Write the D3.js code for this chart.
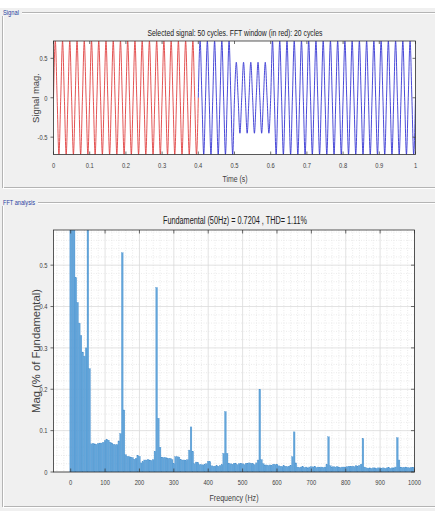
<!DOCTYPE html>
<html><head><meta charset="utf-8">
<script src="https://cdn.jsdelivr.net/npm/d3@7"></script>
<style>body{margin:0;background:#f0f0f0;} svg{display:block}</style>
</head><body><svg id="c" width="435" height="511"></svg>
<script>
// ---------- DATA ----------
const timeTicks = [0,0.1,0.2,0.3,0.4,0.5,0.6,0.7,0.8,0.9,1];
const timeTickLabels = ["0","0.1","0.2","0.3","0.4","0.5","0.6","0.7","0.8","0.9","1"];
const signalTicks = [-0.5,0,0.5];
const signalTickLabels = ["-0.5","0","0.5"];
// peak amplitude of each of the 50 cycles (sag between 0.5 s and 0.6 s)
const cycleAmplitude = [
  0.72,0.72,0.72,0.72,0.72,0.72,0.72,0.72,0.72,0.72,
  0.72,0.72,0.72,0.72,0.72,0.72,0.72,0.72,0.72,0.72,
  0.72,0.72,0.72,0.72,0.72,0.45,0.45,0.45,0.45,0.45,
  0.72,0.72,0.72,0.72,0.72,0.72,0.72,0.72,0.72,0.72,
  0.72,0.72,0.72,0.72,0.72,0.72,0.72,0.72,0.72,0.72];
const fftWindowCycles = 20;

const freqTicks = [0,100,200,300,400,500,600,700,800,900,1000];
const freqTickLabels = ["0","100","200","300","400","500","600","700","800","900","1000"];
const magTicks = [0,0.1,0.2,0.3,0.4,0.5];
const magTickLabels = ["0","0.1","0.2","0.3","0.4","0.5"];
// spectrum magnitude, one value every 5 Hz
const mag000 = [0.80,0.90,0.75,0.47,0.41,0.36,0.33,0.29,0.28,0.30,1.00,0.25,0.068,0.069,0.068,0.067,0.069,0.070,0.070,0.072];
const mag100 = [0.076,0.079,0.077,0.072,0.070,0.067,0.066,0.066,0.075,0.093,0.53,0.15,0.042,0.038,0.037,0.036,0.035,0.031,0.033,0.040];
const mag200 = [0.038,0.022,0.025,0.029,0.029,0.030,0.029,0.028,0.030,0.050,0.446,0.13,0.060,0.036,0.035,0.035,0.034,0.033,0.033,0.030];
const mag300 = [0.020,0.037,0.037,0.036,0.030,0.029,0.029,0.028,0.030,0.053,0.109,0.050,0.020,0.024,0.023,0.018,0.018,0.017,0.018,0.020];
const mag400 = [0.026,0.025,0.015,0.014,0.014,0.015,0.014,0.016,0.018,0.045,0.146,0.045,0.020,0.020,0.019,0.021,0.020,0.018,0.020,0.020];
const mag500 = [0.020,0.018,0.021,0.021,0.022,0.021,0.020,0.018,0.022,0.029,0.200,0.030,0.020,0.017,0.017,0.016,0.017,0.016,0.019,0.018];
const mag600 = [0.019,0.015,0.014,0.013,0.015,0.014,0.013,0.014,0.016,0.037,0.097,0.022,0.012,0.011,0.012,0.013,0.011,0.012,0.010,0.012];
const mag700 = [0.013,0.012,0.014,0.011,0.012,0.011,0.012,0.011,0.012,0.018,0.085,0.015,0.012,0.013,0.012,0.013,0.012,0.011,0.012,0.012];
const mag800 = [0.012,0.013,0.014,0.013,0.014,0.013,0.015,0.014,0.016,0.019,0.081,0.012,0.010,0.009,0.010,0.009,0.010,0.010,0.009,0.010];
const mag900 = [0.010,0.009,0.010,0.009,0.010,0.011,0.009,0.010,0.010,0.012,0.083,0.029,0.012,0.011,0.011,0.012,0.011,0.010,0.011,0.011,0.011];
const freqStep = 5;

// ---------- DRAW ----------
const svg = d3.select("#c");
const FONT = "Arial, 'Liberation Sans', sans-serif";
svg.append("rect").attr("x",0).attr("y",0).attr("width",435).attr("height",8).attr("fill","#ffffff");

function panel(y0, y1, label, labelW){
  const g = svg.append("g");
  g.append("rect").attr("x",2.5).attr("y",y0+0.5).attr("width",440).attr("height",y1-y0)
    .attr("fill","none").attr("stroke","#b4b4b4").attr("stroke-width",1);
  g.append("rect").attr("x",3.5).attr("y",y0+1.5).attr("width",440).attr("height",y1-y0)
    .attr("fill","none").attr("stroke","#ffffff").attr("stroke-width",1);
  g.append("rect").attr("x",2).attr("y",y0-4).attr("width",labelW).attr("height",8).attr("fill","#f0f0f0");
  g.append("text").attr("x",3).attr("y",y0+2.5).text(label)
    .attr("font-family",FONT).attr("font-size",6.5).attr("fill","#2a3fa0")
    .attr("textLength",labelW-4).attr("lengthAdjust","spacingAndGlyphs");
}
panel(12,187,"Signal",20);
panel(202,506,"FFT analysis",36);

function squeeze(sel, k){
  sel.each(function(){ const w=this.getComputedTextLength(); d3.select(this).attr("textLength",w*k).attr("lengthAdjust","spacingAndGlyphs"); });
}

// ===== Top: signal =====
const T = {l:53.5, r:415.5, t:41, b:154.5};
const xs = d3.scaleLinear().domain([0,1]).range([T.l,T.r]);
const ys = d3.scaleLinear().domain([-0.72,0.72]).range([T.b,T.t]);
svg.append("rect").attr("x",T.l).attr("y",T.t).attr("width",T.r-T.l).attr("height",T.b-T.t).attr("fill","#fff");
svg.append("clipPath").attr("id","clipT").append("rect").attr("x",T.l).attr("y",T.t).attr("width",T.r-T.l).attr("height",T.b-T.t);

function cyclePoints(k0,k1){
  const pts=[];
  for(let k=k0;k<k1;k++){
    const t0=k*0.02, A=cycleAmplitude[k];
    pts.push([t0,0],[t0+0.005,A],[t0+0.01,0],[t0+0.015,-A]);
  }
  pts.push([k1*0.02,0]);
  return pts;
}
const line = d3.line().x(d=>xs(d[0])).y(d=>ys(d[1])).curve(d3.curveMonotoneX);
const gSig = svg.append("g").attr("clip-path","url(#clipT)");
gSig.append("path").attr("d",line(cyclePoints(fftWindowCycles,cycleAmplitude.length)))
  .attr("fill","none").attr("stroke","#3636d2").attr("stroke-width",0.9);
gSig.append("path").attr("d",line(cyclePoints(0,fftWindowCycles)))
  .attr("fill","none").attr("stroke","#e04040").attr("stroke-width",0.9);

// axes of top
const axC="#303030";
const gTA = svg.append("g");
gTA.append("rect").attr("x",T.l).attr("y",T.t).attr("width",T.r-T.l).attr("height",T.b-T.t).attr("fill","none").attr("stroke",axC).attr("stroke-width",0.8);
timeTicks.forEach((v,i)=>{
  const x=xs(v);
  gTA.append("line").attr("x1",x).attr("x2",x).attr("y1",T.b).attr("y2",T.b-3).attr("stroke",axC).attr("stroke-width",0.7);
  gTA.append("line").attr("x1",x).attr("x2",x).attr("y1",T.t).attr("y2",T.t+3).attr("stroke",axC).attr("stroke-width",0.7);
  gTA.append("text").attr("class","tk").attr("x",x).attr("y",T.b+13).attr("text-anchor","middle").text(timeTickLabels[i]);
});
signalTicks.forEach((v,i)=>{
  const y=ys(v);
  gTA.append("line").attr("x1",T.l-3).attr("x2",T.l).attr("y1",y).attr("y2",y).attr("stroke",axC).attr("stroke-width",0.7);
  gTA.append("line").attr("x1",T.r).attr("x2",T.r-3).attr("y1",y).attr("y2",y).attr("stroke",axC).attr("stroke-width",0.7);
  gTA.append("text").attr("class","tk").attr("x",T.l-6).attr("y",y+2.8).attr("text-anchor","end").text(signalTickLabels[i]);
});
svg.append("text").attr("x",235).attr("y",36).attr("text-anchor","middle").text("Selected signal: 50 cycles. FFT window (in red): 20 cycles")
  .attr("font-family",FONT).attr("font-size",9).attr("fill","#202020").attr("textLength",175).attr("lengthAdjust","spacingAndGlyphs");
svg.append("text").attr("x",235).attr("y",182).attr("text-anchor","middle").text("Time (s)")
  .attr("font-family",FONT).attr("font-size",8.5).attr("fill","#404040").attr("textLength",25).attr("lengthAdjust","spacingAndGlyphs");
svg.append("text").attr("transform","translate(39,98) rotate(-90)").attr("text-anchor","middle").text("Signal mag.")
  .attr("font-family",FONT).attr("font-size",9.5).attr("fill","#404040").attr("textLength",50).attr("lengthAdjust","spacingAndGlyphs");

// ===== Bottom: spectrum =====
const B = {l:53.5, r:414.5, t:230, b:472};
const xf = d3.scaleLinear().domain([-50,1000]).range([B.l,B.r]);
const yf = d3.scaleLinear().domain([0,0.585]).range([B.b,B.t]);
svg.append("rect").attr("x",B.l).attr("y",B.t).attr("width",B.r-B.l).attr("height",B.b-B.t).attr("fill","#fff");
svg.append("clipPath").attr("id","clipB").append("rect").attr("x",B.l).attr("y",B.t).attr("width",B.r-B.l).attr("height",B.b-B.t);

const gGrid = svg.append("g");
d3.range(-40,1000,20).forEach(f=>{ if(f%100!==0) gGrid.append("line").attr("x1",xf(f)).attr("x2",xf(f)).attr("y1",B.t).attr("y2",B.b).attr("stroke","#e2e2e2").attr("stroke-width",0.7).attr("stroke-dasharray","1,1.5"); });
d3.range(0.02,0.585,0.02).forEach(v=>{ if(Math.abs(v*10-Math.round(v*10))>1e-6) gGrid.append("line").attr("x1",B.l).attr("x2",B.r).attr("y1",yf(v)).attr("y2",yf(v)).attr("stroke","#e2e2e2").attr("stroke-width",0.7).attr("stroke-dasharray","1,1.5"); });
freqTicks.forEach(f=>gGrid.append("line").attr("x1",xf(f)).attr("x2",xf(f)).attr("y1",B.t).attr("y2",B.b).attr("stroke","#dadada").attr("stroke-width",0.8));
magTicks.forEach(v=>gGrid.append("line").attr("x1",B.l).attr("x2",B.r).attr("y1",yf(v)).attr("y2",yf(v)).attr("stroke","#dadada").attr("stroke-width",0.8));

const spectrum = [].concat(mag000,mag100,mag200,mag300,mag400,mag500,mag600,mag700,mag800,mag900)
  .map((m,i)=>({f:i*freqStep, m}));
const bw = xf(freqStep)-xf(0);
svg.append("g").attr("clip-path","url(#clipB)").selectAll("rect").data(spectrum).join("rect")
  .attr("x",d=>xf(d.f)-bw/2).attr("width",bw).attr("y",d=>yf(d.m)).attr("height",d=>yf(0)-yf(d.m))
  .attr("fill","#62a5da").attr("stroke","#4a90cc").attr("stroke-width",0.3);

const gBA = svg.append("g");
gBA.append("rect").attr("x",B.l).attr("y",B.t).attr("width",B.r-B.l).attr("height",B.b-B.t).attr("fill","none").attr("stroke",axC).attr("stroke-width",0.8);
freqTicks.forEach((f,i)=>{
  const x=xf(f);
  gBA.append("line").attr("x1",x).attr("x2",x).attr("y1",B.b).attr("y2",B.b-3.5).attr("stroke",axC).attr("stroke-width",0.7);
  gBA.append("line").attr("x1",x).attr("x2",x).attr("y1",B.t).attr("y2",B.t+3.5).attr("stroke",axC).attr("stroke-width",0.7);
  gBA.append("text").attr("class","tk").attr("x",x).attr("y",B.b+13).attr("text-anchor","middle").text(freqTickLabels[i]);
});
magTicks.forEach((v,i)=>{
  const y=yf(v);
  gBA.append("line").attr("x1",B.l-3).attr("x2",B.l).attr("y1",y).attr("y2",y).attr("stroke",axC).attr("stroke-width",0.7);
  gBA.append("line").attr("x1",B.r).attr("x2",B.r-3.5).attr("y1",y).attr("y2",y).attr("stroke",axC).attr("stroke-width",0.7);
  gBA.append("text").attr("class","tk").attr("x",B.l-6).attr("y",y+2.8).attr("text-anchor","end").text(magTickLabels[i]);
});
svg.append("text").attr("x",235).attr("y",224).attr("text-anchor","middle").text("Fundamental (50Hz) = 0.7204 , THD= 1.11%")
  .attr("font-family",FONT).attr("font-size",10).attr("fill","#202020").attr("textLength",144).attr("lengthAdjust","spacingAndGlyphs");
svg.append("text").attr("x",234).attr("y",501).attr("text-anchor","middle").text("Frequency (Hz)")
  .attr("font-family",FONT).attr("font-size",9).attr("fill","#404040").attr("textLength",49).attr("lengthAdjust","spacingAndGlyphs");
svg.append("text").attr("transform","translate(40,351) rotate(-90)").attr("text-anchor","middle").text("Mag (% of Fundamental)")
  .attr("font-family",FONT).attr("font-size",10).attr("fill","#404040").attr("textLength",124).attr("lengthAdjust","spacingAndGlyphs");

svg.selectAll("text.tk").attr("font-family",FONT).attr("font-size",8).attr("fill","#404040");
squeeze(svg.selectAll("text.tk"),0.72);
</script></body></html>
